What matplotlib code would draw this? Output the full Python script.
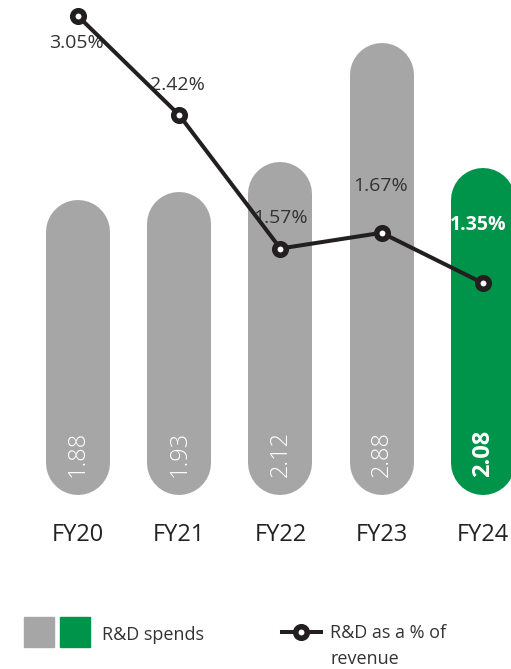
import matplotlib.pyplot as plt
from matplotlib.patches import Rectangle
from matplotlib.lines import Line2D

plt.rcParams['font.family'] = ['Open Sans', 'DejaVu Sans']

years = ['FY20', 'FY21', 'FY22', 'FY23', 'FY24']
spends = [1.88, 1.93, 2.12, 2.88, 2.08]
pct = [3.05, 2.42, 1.57, 1.67, 1.35]
pct_labels = ['3.05%', '2.42%', '1.57%', '1.67%', '1.35%']

GRAY = '#a6a6a6'
GREEN = '#00934a'
DARK = '#231f20'
bar_colors = [GRAY, GRAY, GRAY, GRAY, GREEN]
# label offsets in points from each point
pct_off = [(-1, -19), (-1, 22), (0, 22), (-1, 34), (-3, 42)]

W, H = 511, 669
fig = plt.figure(figsize=(W / 100, H / 100), dpi=100)
base = 495  # pixel row of zero
ypx = 157.0  # pixels per unit
ax = fig.add_axes([0, (H - base) / H, 1, base / H])
ax.set_xlim(-78 / 101.2, (W - 78) / 101.2)
ax.set_ylim(0, base / ypx)
for s in ax.spines.values():
    s.set_visible(False)
ax.set_yticks([])
ax.set_xticks(range(len(years)))
ax.set_xticklabels(years, fontsize=17, color='#222222')
ax.tick_params(axis='x', length=0, pad=20)

# pill bars: thick lines with round caps (width 64 px)
bar_px = 64
r = (bar_px / 2) / ypx
for i, v in enumerate(spends):
    ax.plot([i, i], [r, v - r], color=bar_colors[i], lw=bar_px * 0.72,
            solid_capstyle='round', zorder=1)

for i, v in enumerate(spends):
    last = i == len(spends) - 1
    ax.annotate(f'{v:.2f}', (i, 0), xytext=(0, 13), textcoords='offset points',
                rotation=90, ha='center', va='bottom', color='white', fontsize=17,
                fontweight='bold' if last else 'light', zorder=2)

ax.plot(range(len(years)), pct, color=DARK, lw=2.9, marker='o', ms=8.3,
        mfc='white', mec=DARK, mew=4, zorder=4, clip_on=False)

for i, v in enumerate(pct):
    last = i == len(pct) - 1
    ax.annotate(pct_labels[i], (i, v), xytext=pct_off[i], textcoords='offset points',
                ha='center', va='center', fontsize=14,
                color='white' if last else '#333333',
                fontweight='bold' if last else 'normal', zorder=3)


def fx(px):
    return px / W


def fy(py):
    return 1 - py / H


# legend
fig.patches.append(Rectangle((fx(24), fy(647)), 30 / W, 30 / H, color=GRAY,
                             transform=fig.transFigure))
fig.patches.append(Rectangle((fx(60), fy(647)), 30 / W, 30 / H, color=GREEN,
                             transform=fig.transFigure))
fig.text(fx(102), fy(635), 'R&D spends', fontsize=13, color='#333333', va='center')
fig.lines.append(Line2D([fx(282), fx(321)], [fy(632), fy(632)], color=DARK, lw=2.9,
                        transform=fig.transFigure))
fig.lines.append(Line2D([fx(301)], [fy(632)], marker='o', ms=8.3, mfc='white', mec=DARK,
                        mew=4, transform=fig.transFigure))
fig.text(fx(330), fy(633), 'R&D as a % of', fontsize=13, color='#333333', va='center')
fig.text(fx(330), fy(659), 'revenue', fontsize=13, color='#333333', va='center')

fig.savefig('out.png', dpi=100)
